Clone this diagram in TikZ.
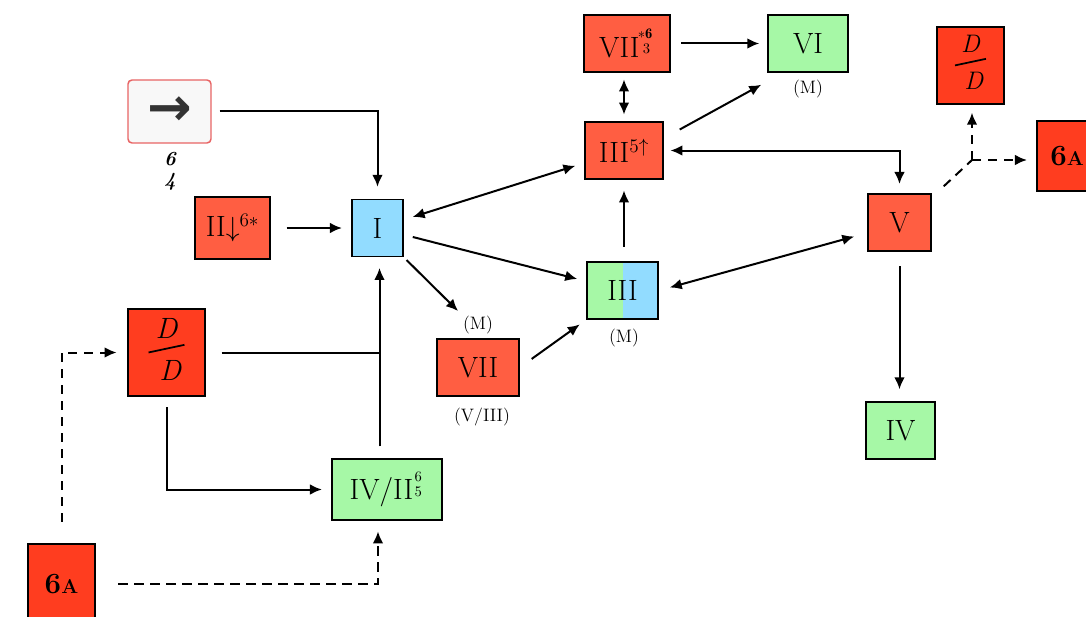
\documentclass[tikz,border=0pt]{standalone}
\usepackage{amsmath,graphicx}
\usepackage{fontspec}
\newfontfamily\djv{DejaVu Sans}
\usetikzlibrary{arrows.meta}
\definecolor{tom}{HTML}{FF5E42}
\definecolor{redd}{HTML}{FF3D1F}
\definecolor{grn}{HTML}{A6F8A6}
\definecolor{blu}{HTML}{92DCFF}
\definecolor{pinkb}{HTML}{E86464}
\definecolor{lgray}{HTML}{F8F8F8}
\newcommand{\slfrac}{{\renewcommand{\arraystretch}{0.7}\begin{tabular}{@{}c@{}}\itshape D\hspace{0.25em}\\[-0.25em]\rotatebox{12}{\rule{1.25em}{1.3pt}}\\[0em]\hspace{0.25em}\itshape D\end{tabular}}}
\begin{document}
\begin{tikzpicture}[x=0.75pt,y=-0.75pt,
  box/.style={draw=black, line width=1.1pt, inner sep=0pt, font=\fontsize{22}{24}\selectfont},
  lbl/.style={font=\fontsize{13.5}{15}\selectfont, inner sep=0pt},
  con/.style={line width=1.5pt, -{Latex[length=9pt,width=8pt]}, shorten <=7pt, shorten >=7pt},
  dcon/.style={con, {Latex[length=9pt,width=8pt]}-{Latex[length=9pt,width=8pt]}},
  dsh/.style={con, dash pattern=on 7pt off 5pt},
  plain/.style={line width=1.5pt}
]
\useasboundingbox (0,0) rectangle (1086,617);

% nodes
\node[box, fill=lgray, draw=pinkb, rounded corners=3pt, minimum width=62.25pt, minimum height=47.25pt] (arr) at (169.5,111.5) {\color{black!80}\djv\bfseries\fontsize{40}{40}\selectfont →};
\node[lbl, font=\bfseries\itshape\fontsize{15}{16}\selectfont, align=center] (sf) at (170,171) {6\\4};
\node[box, fill=tom, minimum width=56.25pt, minimum height=46.5pt] (II) at (232.5,228) {II$\downarrow^{6\ast}$};
\node[box, fill=blu, minimum width=38.25pt, minimum height=42.75pt] (I) at (377.5,228) {I};
\node[box, fill=redd, minimum width=57.75pt, minimum height=65.25pt] (DDl) at (166.5,352.5) {\slfrac};
\node[box, fill=grn, minimum width=82.5pt, minimum height=45.75pt] (IV2) at (387,489.5) {IV/II$^{\genfrac{}{}{0pt}{2}{6}{5}}$};
\node[box, fill=redd, minimum width=50.25pt, minimum height=60pt] (SAbl) at (61.5,584) {\bfseries 6{\fontsize{15}{15}\selectfont A}};
\node[box, fill=tom, minimum width=61.5pt, minimum height=42.75pt] (VIIm) at (478,367.5) {VII};
\node[box, minimum width=53.25pt, minimum height=42.75pt,
  path picture={\fill[grn] (path picture bounding box.south west) rectangle (path picture bounding box.north);
                \fill[blu] (path picture bounding box.south) rectangle (path picture bounding box.north east);}] (III) at (622.5,290.5) {III};
\node[box, fill=tom, minimum width=58.5pt, minimum height=42.75pt] (III5) at (624,150.5) {III$^{5\uparrow}$};
\node[box, fill=tom, minimum width=64.5pt, minimum height=42.75pt] (VII7) at (627,43.5) {VII$^{\!\genfrac{}{}{0pt}{2}{\ast\mathbf{6}}{\,3}}$};
\node[box, fill=grn, minimum width=60pt, minimum height=42.75pt] (VI) at (808,43.5) {VI};
\node[box, fill=tom, minimum width=47.25pt, minimum height=42.75pt] (V) at (899.5,222.5) {V};
\node[box, fill=grn, minimum width=51.75pt, minimum height=42.75pt] (IV) at (900.5,430.5) {IV};
\node[box, fill=redd, minimum width=50.25pt, minimum height=57.75pt, font=\fontsize{19}{21}\selectfont] (DDr) at (970.5,65.5) {\slfrac};
\node[box, fill=redd, minimum width=45pt, minimum height=52.5pt] (SAr) at (1067,156) {\bfseries 6{\fontsize{15}{15}\selectfont A}};

% labels
\node[lbl] (m1) at (478,325) {(M)};
\node[lbl] (v3) at (482,417) {(V/III)};
\node[lbl] (m2) at (624,338) {(M)};
\node[lbl] (m3) at (808,89) {(M)};

% connectors
\draw[con, shorten <=6pt, shorten >=9pt] (arr.east) -| (I.north);
\draw[con, shorten <=12pt] (II.east) -- (II.east -| I.west);
\draw[dcon] (I) -- (III5);
\draw[con] (I) -- (III);
\draw[con, shorten <=3pt, shorten >=5pt] (I.south east) -- (m1.north west);
\draw[con, shorten <=11pt, shorten >=6pt] (VIIm.east) -- (III.south west);
\draw[con, shorten <=11pt, shorten >=8pt] (III5.south |- III.north) -- (III5.south);
\draw[dcon, shorten <=5pt, shorten >=5pt] (VII7.south -| III5.north) -- (III5.north);
\draw[con, shorten <=8pt, shorten >=6pt] (VII7.east) -- (VI.west);
\draw[con, shorten <=0pt, shorten >=0pt] ([shift={(16,-21)}]III5.east) -- ([shift={(-6,12)}]VI.south west);
\draw[dcon, shorten <=5pt, shorten >=7pt] (III5.east) -| (V.north);
\draw[dcon, shorten <=0pt, shorten >=0pt] ([shift={(11,-3)}]III.east) -- ([shift={(-13,14)}]V.west);
\draw[con, shorten <=11pt, shorten >=9pt] (V.south) -- (V.south |- IV.north);
\coordinate (j) at (972,160);
\draw[dsh, -, shorten <=0pt, shorten >=0pt] ([shift={(12,-7)}]V.north east) -- (j);
\draw[dsh, shorten <=0pt, shorten >=6pt] (j) -- (j |- DDr.south);
\draw[dsh, shorten <=0pt, shorten >=7pt] (j) -- (j -| SAr.west);
\draw[plain, shorten <=12pt] (DDl.east) -- ([shift={(2,0)}]DDl.east -| I.south);
\draw[con, shorten <=9pt, shorten >=8pt] ([shift={(2,0)}]I.south |- IV2.north) -- ([shift={(2,0)}]I.south);
\draw[con, shorten <=8pt, shorten >=7pt] (DDl.south) |- (IV2.west);
\draw[dsh, shorten <=16pt, shorten >=8pt] (SAbl.north) |- (DDl.west);
\draw[dsh, shorten <=17pt, shorten >=8pt] (SAbl.east) -| ([shift={(-9,0)}]IV2.south);
\end{tikzpicture}
\end{document}
